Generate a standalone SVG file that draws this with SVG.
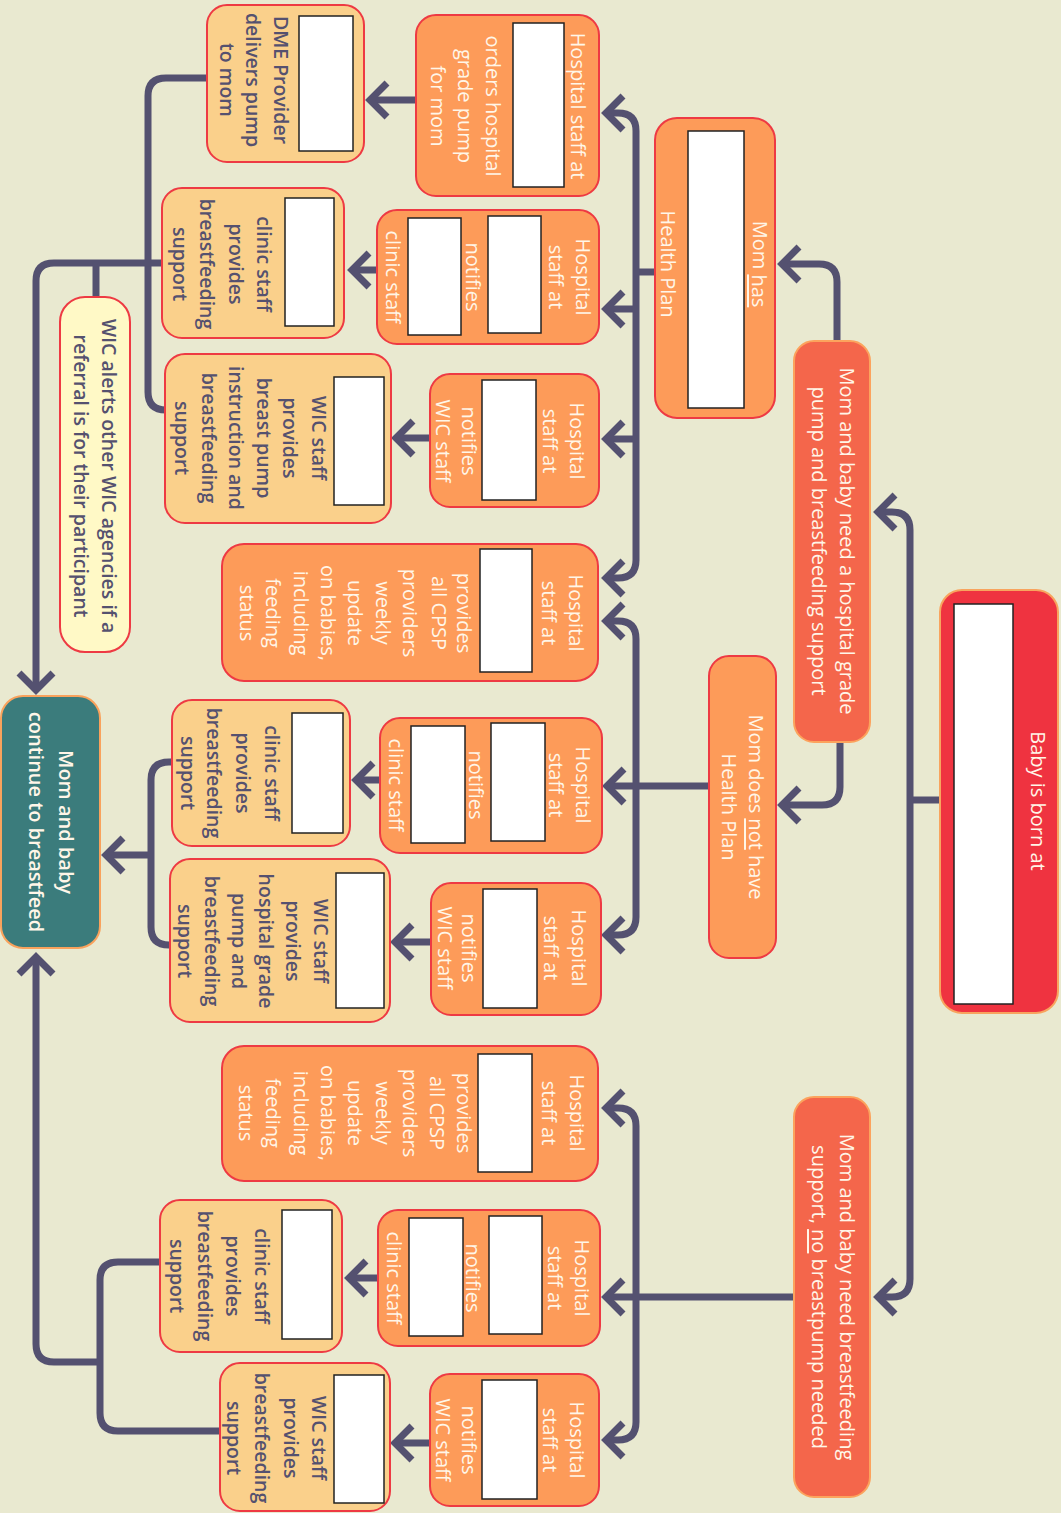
<svg xmlns="http://www.w3.org/2000/svg" width="1061" height="1513" viewBox="0 0 1061 1513">
  <style>
    .bg { fill: #e9e9d0; }
    .red { fill: #ef3340; stroke: #f8a45e; stroke-width: 2; }
    .coral { fill: #f4664b; stroke: #fca35d; stroke-width: 2; }
    .orange { fill: #fd9b59; stroke: #ee3a43; stroke-width: 2; }
    .peach { fill: #fad08b; stroke: #ee3a43; stroke-width: 2; }
    .yellow { fill: #fff9c6; stroke: #ee3a43; stroke-width: 2; }
    .teal { fill: #3b7c7c; stroke: #f9a25c; stroke-width: 2; }
    .blank { fill: #ffffff; stroke: #222222; stroke-width: 1.5; }
    text { font-family: "Open Sans", "Noto Sans", "Liberation Sans", sans-serif; dominant-baseline: central; text-anchor: middle; }
    .w { fill: #fff6e8; font-size: 20px; font-weight: 500; }
    .d { fill: #55516f; font-size: 19.5px; font-weight: 600; }
    .u { text-decoration: underline; }
    .link { fill: none; stroke: #545170; stroke-width: 7; }
    .arrow { marker-end: url(#chevron); }
    .both { marker-start: url(#chevron); marker-end: url(#chevron); }
  </style>
  <defs>
    <marker id="chevron" markerUnits="userSpaceOnUse" viewBox="-26 -24 34 48" markerWidth="34" markerHeight="48" refX="0" refY="0" orient="auto-start-reverse">
      <path d="M-17,-17 L0,0 L-17,17" fill="none" stroke="#545170" stroke-width="7"/>
    </marker>
  </defs>

  <rect class="bg" x="0" y="0" width="1061" height="1513"/>

  <!-- connectors -->
  <g id="connectors">
    <path class="link" d="M940,800 H910"/>
    <path class="link both" d="M878,512 H892 Q910,512 910,530 V1279 Q910,1297 892,1297 H878"/>
    <path class="link arrow" d="M837,341 V282 Q837,264 819,264 H782"/>
    <path class="link arrow" d="M840,742 V787 Q840,805 822,805 H782"/>

    <path class="link" d="M655,272 H636"/>
    <path class="link both" d="M606,113 H618 Q636,113 636,131 V560 Q636,578 618,578 H606"/>
    <path class="link arrow" d="M636,309 H606"/>
    <path class="link arrow" d="M636,439 H606"/>

    <path class="link arrow" d="M709,786 H607"/>
    <path class="link both" d="M606,621 H618 Q636,621 636,639 V917 Q636,935 618,935 H606"/>

    <path class="link arrow" d="M794,1297 H606"/>
    <path class="link both" d="M606,1108 H618 Q636,1108 636,1126 V1422 Q636,1440 618,1440 H606"/>

    <path class="link arrow" d="M416,100 H370"/>
    <path class="link arrow" d="M377,270 H352"/>
    <path class="link arrow" d="M430,438 H396"/>
    <path class="link arrow" d="M380,780 H356"/>
    <path class="link arrow" d="M431,942 H395"/>
    <path class="link arrow" d="M378,1278 H349"/>
    <path class="link arrow" d="M430,1443 H395"/>

    <path class="link" d="M207,78 H166 Q148,78 148,96 V392 Q148,410 166,410"/>
    <path class="link arrow" d="M162,263 H54 Q36,263 36,281 V690"/>
    <path class="link" d="M96,263 V298"/>

    <path class="link" d="M172,762 H169 Q151,762 151,780 V927 Q151,945 169,945 H171"/>
    <path class="link arrow" d="M151,855 H106"/>

    <path class="link" d="M160,1262 H118 Q100,1262 100,1280 V1413 Q100,1431 118,1431 H221"/>
    <path class="link arrow" d="M100,1362 H54 Q36,1362 36,1344 V957"/>
  </g>

  <!-- Baby is born at -->
  <g id="born">
    <rect class="red" x="940" y="590" width="118" height="423" rx="22"/>
    <rect class="blank" x="954" y="604" width="59" height="400"/>
    <text class="w" transform="translate(1038,801) rotate(90)">Baby is born at</text>
  </g>

  <!-- needs pump and support -->
  <g id="need-pump">
    <rect class="coral" x="794" y="341" width="76" height="401" rx="20"/>
    <text class="w" transform="translate(848,541) rotate(90)"><tspan x="0" y="0">Mom and baby need a hospital grade</tspan><tspan x="0" y="28">pump and breastfeeding support</tspan></text>
  </g>

  <g id="has-plan">
    <rect class="orange" x="655" y="118" width="120" height="300" rx="22"/>
    <rect class="blank" x="688" y="131" width="56" height="277"/>
    <text class="w" transform="translate(760,264) rotate(90)">Mom <tspan class="u">has</tspan></text>
    <text class="w" transform="translate(668,264) rotate(90)">Health Plan</text>
  </g>

  <g id="no-plan">
    <rect class="orange" x="709" y="656" width="67" height="302" rx="20"/>
    <text class="w" transform="translate(757,807) rotate(90)"><tspan x="0" y="0">Mom does <tspan class="u">not</tspan> have</tspan><tspan x="0" y="27">Health Plan</tspan></text>
  </g>

  <g id="need-support">
    <rect class="coral" x="794" y="1097" width="76" height="400" rx="20"/>
    <text class="w" transform="translate(848,1297) rotate(90)"><tspan x="0" y="0">Mom and baby need breastfeeding</tspan><tspan x="0" y="28">support, <tspan class="u">no</tspan> breastpump needed</tspan></text>
  </g>

  <!-- hospital steps, health plan branch -->
  <g id="orders-pump">
    <rect class="orange" x="416" y="15" width="183" height="181" rx="20"/>
    <rect class="blank" x="513" y="23" width="51" height="164"/>
    <text class="w" transform="translate(578,106) rotate(90)">Hospital staff  at</text>
    <text class="w" transform="translate(494,106) rotate(90)"><tspan x="0" y="0">orders hospital</tspan><tspan x="0" y="28">grade pump</tspan><tspan x="0" y="55">for mom</tspan></text>
  </g>

  <g id="notify-clinic-1">
    <rect class="orange" x="377" y="210" width="222" height="134" rx="20"/>
    <rect class="blank" x="488" y="216" width="53" height="117"/>
    <rect class="blank" x="408" y="218" width="53" height="117"/>
    <text class="w" transform="translate(584,277) rotate(90)"><tspan x="0" y="0">Hospital</tspan><tspan x="0" y="27">staff at</tspan></text>
    <text class="w" transform="translate(473,277) rotate(90)">notifies</text>
    <text class="w" transform="translate(393,277) rotate(90)">clinic staff</text>
  </g>

  <g id="notify-wic-1">
    <rect class="orange" x="430" y="374" width="169" height="133" rx="20"/>
    <rect class="blank" x="482" y="380" width="54" height="120"/>
    <text class="w" transform="translate(578,441) rotate(90)"><tspan x="0" y="0">Hospital</tspan><tspan x="0" y="27">staff at</tspan></text>
    <text class="w" transform="translate(470,441) rotate(90)"><tspan x="0" y="0">notifies</tspan><tspan x="0" y="26">WIC staff</tspan></text>
  </g>

  <g id="cpsp-update-1">
    <rect class="orange" x="222" y="544" width="376" height="137" rx="22"/>
    <rect class="blank" x="480" y="549" width="52" height="123"/>
    <text class="w" transform="translate(577,613) rotate(90)"><tspan x="0" y="0">Hospital</tspan><tspan x="0" y="27">staff at</tspan></text>
    <text class="w" transform="translate(465,613) rotate(90)"><tspan x="0" y="0">provides</tspan><tspan x="0" y="25">all CPSP</tspan><tspan x="0" y="54">providers</tspan><tspan x="0" y="81">weekly</tspan><tspan x="0" y="109">update</tspan><tspan x="0" y="136">on babies,</tspan><tspan x="0" y="163">including</tspan><tspan x="0" y="191">feeding</tspan><tspan x="0" y="217">status</tspan></text>
  </g>

  <!-- hospital steps, no health plan branch -->
  <g id="notify-clinic-2">
    <rect class="orange" x="380" y="718" width="222" height="135" rx="20"/>
    <rect class="blank" x="491" y="723" width="54" height="118"/>
    <rect class="blank" x="411" y="726" width="54" height="117"/>
    <text class="w" transform="translate(584,785) rotate(90)"><tspan x="0" y="0">Hospital</tspan><tspan x="0" y="27">staff at</tspan></text>
    <text class="w" transform="translate(476,785) rotate(90)">notifies</text>
    <text class="w" transform="translate(396,785) rotate(90)">clinic staff</text>
  </g>

  <g id="notify-wic-2">
    <rect class="orange" x="431" y="883" width="170" height="132" rx="20"/>
    <rect class="blank" x="483" y="889" width="54" height="119"/>
    <text class="w" transform="translate(580,948) rotate(90)"><tspan x="0" y="0">Hospital</tspan><tspan x="0" y="28">staff at</tspan></text>
    <text class="w" transform="translate(470,948) rotate(90)"><tspan x="0" y="0">notifies</tspan><tspan x="0" y="24">WIC staff</tspan></text>
  </g>

  <!-- support providers -->
  <g id="dme-delivers">
    <rect class="peach" x="207" y="5" width="157" height="157" rx="20"/>
    <rect class="blank" x="299" y="16" width="54" height="135"/>
    <text class="d" transform="translate(282,80) rotate(90)"><tspan x="0" y="0">DME Provider</tspan><tspan x="0" y="28">delivers pump</tspan><tspan x="0" y="54">to mom</tspan></text>
  </g>

  <g id="clinic-support-1">
    <rect class="peach" x="162" y="188" width="182" height="150" rx="20"/>
    <rect class="blank" x="285" y="198" width="49" height="128"/>
    <text class="d" transform="translate(265,264) rotate(90)"><tspan x="0" y="0">clinic staff</tspan><tspan x="0" y="28">provides</tspan><tspan x="0" y="57">breastfeeding</tspan><tspan x="0" y="84">support</tspan></text>
  </g>

  <g id="wic-pump-instruction">
    <rect class="peach" x="165" y="354" width="226" height="169" rx="20"/>
    <rect class="blank" x="334" y="377" width="50" height="128"/>
    <text class="d" transform="translate(320,438) rotate(90)"><tspan x="0" y="0">WIC staff</tspan><tspan x="0" y="29">provides</tspan><tspan x="0" y="55">breast pump</tspan><tspan x="0" y="83">instruction and</tspan><tspan x="0" y="110">breastfeeding</tspan><tspan x="0" y="137">support</tspan></text>
  </g>

  <g id="wic-alerts">
    <rect class="yellow" x="60" y="297" width="70" height="355" rx="25"/>
    <text class="d" transform="translate(110,476) rotate(90)"><tspan x="0" y="0">WIC alerts other WIC agencies if a</tspan><tspan x="0" y="28">referral is for their participant</tspan></text>
  </g>

  <g id="clinic-support-2">
    <rect class="peach" x="172" y="700" width="178" height="146" rx="20"/>
    <rect class="blank" x="292" y="713" width="51" height="120"/>
    <text class="d" transform="translate(273,773) rotate(90)"><tspan x="0" y="0">clinic staff</tspan><tspan x="0" y="29">provides</tspan><tspan x="0" y="58">breastfeeding</tspan><tspan x="0" y="84">support</tspan></text>
  </g>

  <g id="wic-hospital-pump">
    <rect class="peach" x="170" y="859" width="220" height="163" rx="20"/>
    <rect class="blank" x="336" y="873" width="48" height="135"/>
    <text class="d" transform="translate(322,941) rotate(90)"><tspan x="0" y="0">WIC staff</tspan><tspan x="0" y="28">provides</tspan><tspan x="0" y="55">hospital grade</tspan><tspan x="0" y="82">pump and</tspan><tspan x="0" y="109">breastfeeding</tspan><tspan x="0" y="136">support</tspan></text>
  </g>

  <g id="continue">
    <rect class="teal" x="1" y="696" width="99" height="252" rx="22"/>
    <text class="w" style="font-weight:600" transform="translate(67,822) rotate(90)"><tspan x="0" y="0">Mom and baby</tspan><tspan x="0" y="30">continue to breastfeed</tspan></text>
  </g>

  <!-- breastfeeding support only branch -->
  <g id="cpsp-update-2">
    <rect class="orange" x="222" y="1046" width="376" height="135" rx="22"/>
    <rect class="blank" x="478" y="1054" width="54" height="118"/>
    <text class="w" transform="translate(578,1113) rotate(90)"><tspan x="0" y="0">Hospital</tspan><tspan x="0" y="28">staff at</tspan></text>
    <text class="w" transform="translate(465,1113) rotate(90)"><tspan x="0" y="0">provides</tspan><tspan x="0" y="27">all CPSP</tspan><tspan x="0" y="54">providers</tspan><tspan x="0" y="81">weekly</tspan><tspan x="0" y="109">update</tspan><tspan x="0" y="136">on babies,</tspan><tspan x="0" y="163">including</tspan><tspan x="0" y="191">feeding</tspan><tspan x="0" y="218">status</tspan></text>
  </g>

  <g id="notify-clinic-3">
    <rect class="orange" x="378" y="1210" width="222" height="136" rx="20"/>
    <rect class="blank" x="489" y="1216" width="53" height="118"/>
    <rect class="blank" x="409" y="1218" width="54" height="118"/>
    <text class="w" transform="translate(583,1278) rotate(90)"><tspan x="0" y="0">Hospital</tspan><tspan x="0" y="27">staff at</tspan></text>
    <text class="w" transform="translate(473,1278) rotate(90)">notifies</text>
    <text class="w" transform="translate(394,1278) rotate(90)">clinic staff</text>
  </g>

  <g id="notify-wic-3">
    <rect class="orange" x="430" y="1374" width="169" height="132" rx="20"/>
    <rect class="blank" x="482" y="1380" width="55" height="119"/>
    <text class="w" transform="translate(578,1440) rotate(90)"><tspan x="0" y="0">Hospital</tspan><tspan x="0" y="27">staff at</tspan></text>
    <text class="w" transform="translate(470,1440) rotate(90)"><tspan x="0" y="0">notifies</tspan><tspan x="0" y="26">WIC staff</tspan></text>
  </g>

  <g id="clinic-support-3">
    <rect class="peach" x="160" y="1200" width="182" height="152" rx="20"/>
    <rect class="blank" x="282" y="1210" width="50" height="129"/>
    <text class="d" transform="translate(263,1276) rotate(90)"><tspan x="0" y="0">clinic staff</tspan><tspan x="0" y="29">provides</tspan><tspan x="0" y="57">breastfeeding</tspan><tspan x="0" y="85">support</tspan></text>
  </g>

  <g id="wic-support">
    <rect class="peach" x="220" y="1363" width="170" height="148" rx="20"/>
    <rect class="blank" x="334" y="1375" width="50" height="128"/>
    <text class="d" transform="translate(320,1438) rotate(90)"><tspan x="0" y="0">WIC staff</tspan><tspan x="0" y="28">provides</tspan><tspan x="0" y="57">breastfeeding</tspan><tspan x="0" y="85">support</tspan></text>
  </g>
</svg>
